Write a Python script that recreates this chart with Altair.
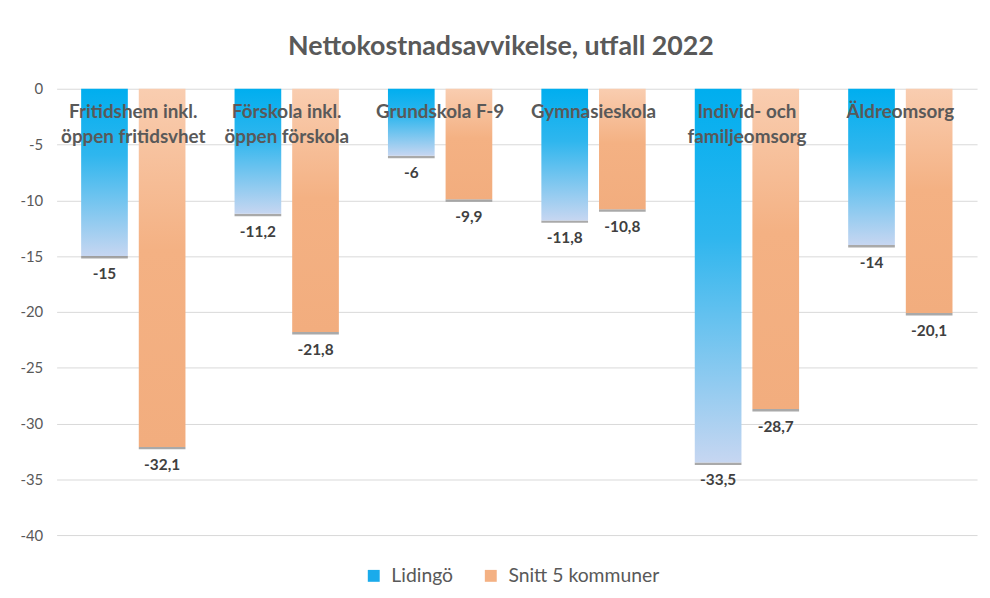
import altair as alt
import pandas as pd

categories = [
    "Fritidshem inkl.\nöppen fritidsvhet",
    "Förskola inkl.\nöppen förskola",
    "Grundskola F-9",
    "Gymnasieskola",
    "Individ- och\nfamiljeomsorg",
    "Äldreomsorg",
]
series = ["Lidingö", "Snitt 5 kommuner"]
lidingo = [-15, -11.2, -6, -11.8, -33.5, -14]
snitt = [-32.1, -21.8, -9.9, -10.8, -28.7, -20.1]
y_ticks = [0, -5, -10, -15, -20, -25, -30, -35, -40]

rows = []
for c, a, b in zip(categories, lidingo, snitt):
    rows.append({"kategori": c, "serie": series[0], "varde": a})
    rows.append({"kategori": c, "serie": series[1], "varde": b})
df = pd.DataFrame(rows)

FONT = "Lato"
GRAY = "#595959"

x_enc = alt.X("kategori:N", sort=categories, axis=None,
              scale=alt.Scale(paddingInner=0.32, paddingOuter=0.16))
xo_enc = alt.XOffset("serie:N", sort=series,
                     scale=alt.Scale(domain=series, paddingInner=0.19, paddingOuter=0))
y_enc = alt.Y("varde:Q", title=None,
              scale=alt.Scale(domain=[-40, 0], nice=False, zero=True),
              axis=alt.Axis(values=y_ticks, labelExpr="toString(datum.value)",
                            domain=False, ticks=False, grid=True, gridColor="#D9D9D9",
                            labelColor=GRAY, labelFontSize=15, labelPadding=14,
                            labelFont=FONT))

blue_grad = alt.LinearGradient(
    gradient="linear", x1=0, y1=0, x2=0, y2=1,
    stops=[alt.GradientStop(color="#00AEEF", offset=0),
           alt.GradientStop(color="#2FB6EE", offset=0.4),
           alt.GradientStop(color="#C6D6F1", offset=1)])
orange_grad = alt.LinearGradient(
    gradient="linear", x1=0, y1=0, x2=0, y2=1,
    stops=[alt.GradientStop(color="#F9CDB0", offset=0),
           alt.GradientStop(color="#F4B183", offset=0.45),
           alt.GradientStop(color="#F2AD7E", offset=1)])

base = alt.Chart(df)

shadow = base.transform_calculate(lo="datum.varde - 0.22").mark_bar(
    color="#6F6F6F", opacity=0.6
).encode(x=x_enc, xOffset=xo_enc, y=alt.Y("lo:Q"), y2=alt.Y2("varde:Q"))

bars_blue = base.transform_filter(alt.datum.serie == series[0]).mark_bar(
    color=blue_grad
).encode(x=x_enc, xOffset=xo_enc, y=y_enc)

bars_orange = base.transform_filter(alt.datum.serie == series[1]).mark_bar(
    color=orange_grad
).encode(x=x_enc, xOffset=xo_enc, y=y_enc)

legend_layer = base.transform_filter("false").mark_bar().encode(
    x=x_enc, xOffset=xo_enc, y=y_enc,
    color=alt.Color("serie:N",
                    scale=alt.Scale(domain=series, range=["#1AABEB", "#F4B183"]),
                    legend=alt.Legend(orient="none", legendX=310, legendY=481,
                                      direction="horizontal", title=None,
                                      labelFontSize=19.5, labelColor=GRAY, labelFont=FONT,
                                      symbolType="square", symbolSize=144,
                                      symbolStrokeWidth=0, columnPadding=28,
                                      labelOffset=8)))

value_labels = base.transform_calculate(
    label="replace(toString(datum.varde), '.', ',')"
).mark_text(baseline="top", dy=11, fontSize=15.5, fontWeight="bold",
            color="#404040", font=FONT).encode(
    x=x_enc, xOffset=xo_enc, y=alt.Y("varde:Q"), text="label:N")

cat_labels = base.transform_filter(alt.datum.serie == series[0]).mark_text(
    baseline="top", dy=15, lineBreak="\n", lineHeight=25, fontSize=19,
    fontWeight="bold", color=GRAY, font=FONT
).encode(x=x_enc, y=alt.datum(0), text="kategori:N")

chart = alt.layer(
    shadow, bars_blue, bars_orange, legend_layer, value_labels, cat_labels
).properties(
    width=928, height=450,
    autosize=alt.AutoSizeParams(type="none"),
    padding={"left": 49, "top": 79, "right": 5, "bottom": 53},
    title=alt.TitleParams("Nettokostnadsavvikelse, utfall 2022", fontSize=27,
                          fontWeight="bold", color=GRAY, font=FONT,
                          anchor="middle", offset=21, dx=-16),
).configure_view(stroke=None)

chart.save("out.html", embed_options={"renderer": "svg", "actions": False})
